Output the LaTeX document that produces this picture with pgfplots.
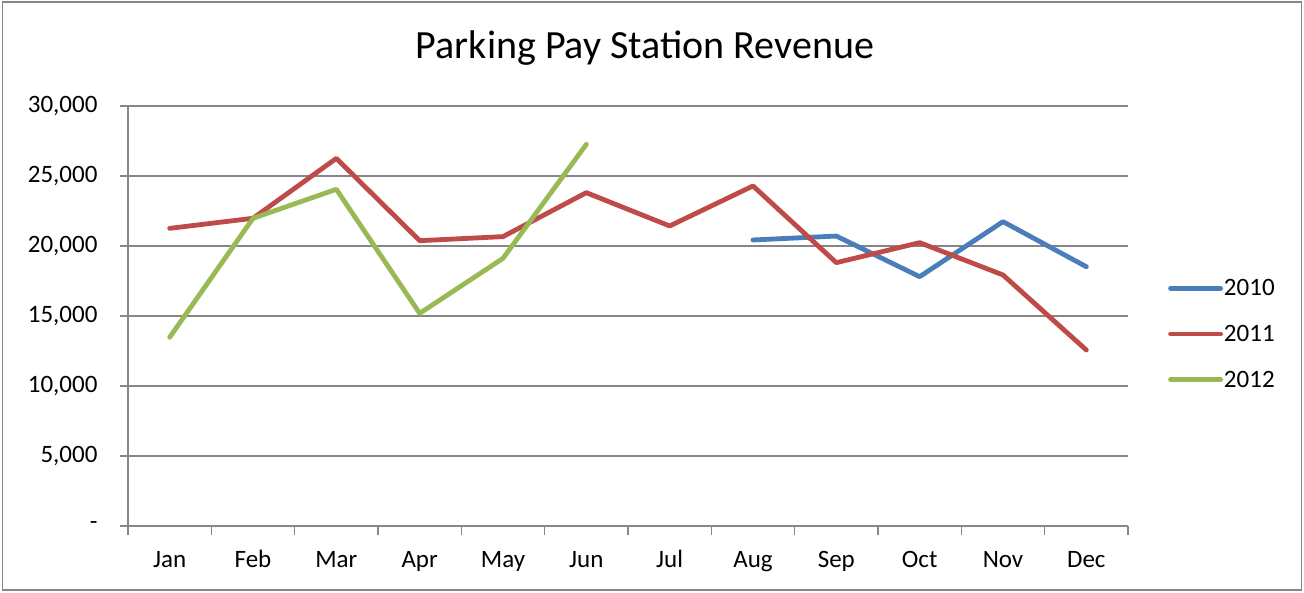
\documentclass[border=0pt]{standalone}
\usepackage{pgfplots}
\pgfplotsset{compat=1.18}
\usepackage{fontspec}
\setmainfont{Carlito}
\definecolor{c2010}{RGB}{74,126,187}
\definecolor{c2011}{RGB}{190,75,72}
\definecolor{c2012}{RGB}{152,185,84}
\definecolor{gridgray}{RGB}{134,134,134}
\begin{document}
\begin{tikzpicture}[x=1pt,y=1pt]
\useasboundingbox (0,0) rectangle (1304,592);
\draw[gridgray, line width=1.5pt] (2.5,2) rectangle (1301.5,590);
\node[font=\fontsize{40}{46}\selectfont, anchor=base] at (645,533) {Parking Pay Station Revenue};
\begin{axis}[
  at={(128pt,66pt)}, anchor=south west,
  scale only axis, width=1000pt, height=420pt,
  xmin=-0.5, xmax=11.5, ymin=0, ymax=30000,
  axis x line*=bottom, axis y line*=left,
  axis line style={gridgray, line width=1.3pt, -},
  xtick={0,...,11},
  xticklabels={Jan,Feb,Mar,Apr,May,Jun,Jul,Aug,Sep,Oct,Nov,Dec},
  major x tick style={draw=none},
  minor xtick={-0.5,0.5,...,11.5},
  minor tick length=9pt,
  xtick align=outside,
  scaled y ticks=false,
  ytick={0,5000,...,30000},
  yticklabels={-,{5,000},{10,000},{15,000},{20,000},{25,000},{30,000}},
  ytick align=center,
  major tick length=16pt,
  tick style={gridgray, line width=1.3pt},
  ymajorgrids, grid style={gridgray, line width=1.3pt},
  tick label style={font=\fontsize{25}{30}\selectfont, text=black},
  xticklabel style={yshift=-5pt, text height=17pt, text depth=5pt},
  yticklabel style={xshift=-19pt},
  clip=false,
  legend style={at={(1.04,0.457)}, anchor=west, draw=none, fill=none,
    inner sep=0pt, row sep=26pt, font=\fontsize{25}{30}\selectfont,
    nodes={inner sep=1pt, anchor=west}},
  legend cell align=left,
  legend image code/.code={\draw[#1, line width=4.8pt, line cap=round] (0pt,0pt) -- (50pt,0pt);},
  every axis plot/.append style={line width=4.8pt, line join=round, line cap=round, mark=none},
]
\addplot[c2010] coordinates {(7,20430)(8,20710)(9,17810)(10,21740)(11,18520)};
\addlegendentry{2010}
\addplot[c2011] coordinates {(0,21260)(1,21980)(2,26260)(3,20380)(4,20670)(5,23810)(6,21430)(7,24290)(8,18810)(9,20240)(10,17930)(11,12570)};
\addlegendentry{2011}
\addplot[c2012] coordinates {(0,13480)(1,21980)(2,24050)(3,15190)(4,19120)(5,27260)};
\addlegendentry{2012}
\end{axis}
\end{tikzpicture}
\end{document}
